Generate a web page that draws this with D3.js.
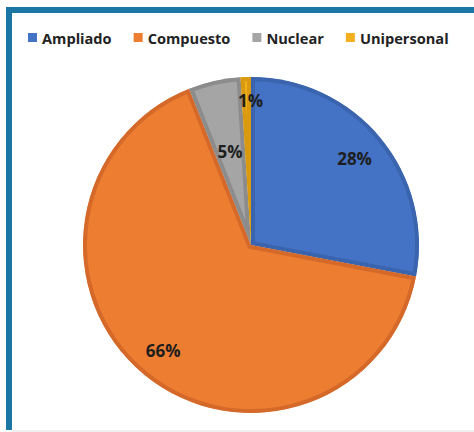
<!DOCTYPE html>
<html>
<head>
<meta charset="utf-8">
<script src="https://cdn.jsdelivr.net/npm/d3@7"></script>
<style>
  html, body { margin: 0; padding: 0; background: #fff; }
  svg { display: block; }
</style>
</head>
<body>
<svg id="chart"></svg>
<script>
const categories = ["Ampliado", "Compuesto", "Nuclear", "Unipersonal"];
const values = [28, 66, 5, 1];
const labels = ["28%", "66%", "5%", "1%"];
const colors = ["#4472c4", "#ed7d31", "#a5a5a5", "#f2b01e"];
const edgeColors = ["#3b64ae", "#d4692a", "#8c8c8c", "#d99a10"];

const width = 474;
const height = 432;
const cx = 251, cy = 245, radius = 168;

const svg = d3.select("#chart")
    .attr("width", width)
    .attr("height", height)
    .style("font-family", "'Open Sans', sans-serif");

// frame (left and top edges only are visible)
svg.append("path")
    .attr("d", "M9,430 V10 H" + width)
    .attr("fill", "none")
    .attr("stroke", "#1b76a5")
    .attr("stroke-width", 6);
svg.append("rect")
    .attr("x", 12).attr("y", 430)
    .attr("width", width).attr("height", 2)
    .attr("fill", "#efefef");

// legend
const legend = svg.append("g").attr("transform", "translate(28,0)");
let lx = 0;
categories.forEach((c, i) => {
    const g = legend.append("g").attr("transform", "translate(" + lx + ",0)");
    g.append("rect")
        .attr("x", 0).attr("y", 33)
        .attr("width", 9).attr("height", 9)
        .attr("fill", colors[i]);
    const t = g.append("text")
        .attr("x", 14).attr("y", 43.5)
        .style("font-size", "14.6px")
        .style("font-weight", "bold")
        .attr("fill", "#222")
        .text(c);
    lx += 14 + t.node().getComputedTextLength() + 22;
});

// pie
const pie = d3.pie().sort(null).value(d => d)(values);
const arc = d3.arc().innerRadius(0).outerRadius(radius);
const defs = svg.append("defs");
const pieG = svg.append("g").attr("transform", "translate(" + cx + "," + cy + ")");

pie.forEach((p, i) => {
    defs.append("clipPath").attr("id", "clip" + i)
        .append("path").attr("d", arc(p));
    pieG.append("path")
        .attr("d", arc(p))
        .attr("fill", colors[i])
        .attr("stroke", edgeColors[i])
        .attr("stroke-width", 8)
        .attr("clip-path", "url(#clip" + i + ")");
});

// labels: small slices sit closer to centre
const labelRadius = { "Ampliado": 0.8, "Compuesto": 0.82, "Nuclear": 0.57, "Unipersonal": 0.86 };
pie.forEach((p, i) => {
    const r = radius * labelRadius[categories[i]];
    const a = (p.startAngle + p.endAngle) / 2;
    pieG.append("text")
        .attr("x", r * Math.sin(a) + (i === 3 ? 4 : 0))
        .attr("y", -r * Math.cos(a))
        .attr("dy", "0.35em")
        .attr("text-anchor", "middle")
        .style("font-size", "17px")
        .style("font-weight", "bold")
        .attr("fill", "#1e1e1e")
        .text(labels[i]);
});
</script>
</body>
</html>
